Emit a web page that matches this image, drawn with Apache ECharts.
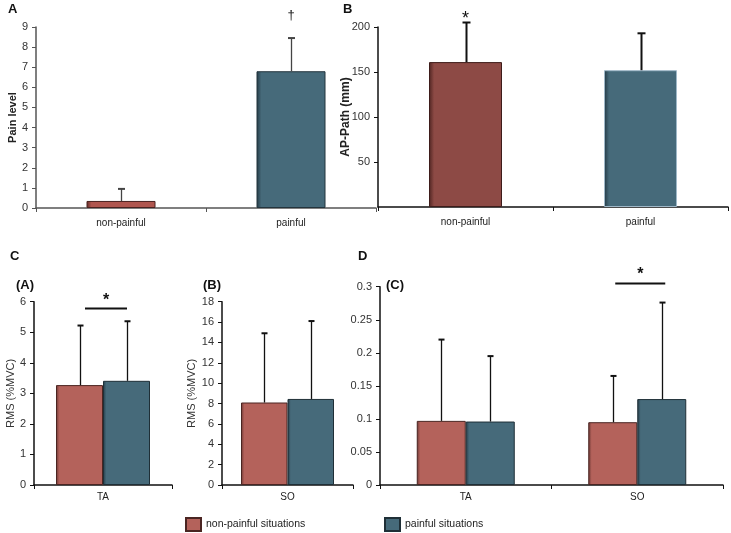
<!DOCTYPE html>
<html><head><meta charset="utf-8">
<script src="https://cdn.jsdelivr.net/npm/echarts@6/dist/echarts.min.js"></script>
<style>html,body{margin:0;padding:0;background:#fff}#c{width:731px;height:533px}</style>
</head><body><div id="c"></div>
<script>
// ---- data ----
const catsAB = ['non-painful', 'painful'];
const painLevel = [0.35, 6.8];
const painLevelSD = [0.6, 1.65];
const apPath = [161, 152];
const apPathSD = [44, 41];
const catsCA = ['TA'];
const caNon = [3.27], caNonSD = [1.95];
const caPain = [3.41], caPainSD = [1.95];
const catsCB = ['SO'];
const cbNon = [8.1], cbNonSD = [6.8];
const cbPain = [8.45], cbPainSD = [7.65];
const catsD = ['TA', 'SO'];
const dNon = [0.097, 0.095], dNonSD = [0.123, 0.070];
const dPain = [0.096, 0.130], dPainSD = [0.099, 0.146];
// annotations: [category index, line value, star value]
const sigCA = [[0, 5.78, 6.02]];
const sigD = [[1, 0.305, 0.319]];
const daggerA = [[1, 9.6]];
const starB = [[0, 208.5]];

const FONT = 'Liberation Sans, Arial, sans-serif';
function grad(dark, main) {
  return new echarts.graphic.LinearGradient(0, 0, 1, 0, [
    {offset: 0, color: dark}, {offset: 0.07, color: main}, {offset: 1, color: main}]);
}
const redA = grad('#5e2b27', '#b0564f');
const redB = grad('#4e2421', '#8d4a45');
const blueAB = grad('#233843', '#466a7a');
const redC = grad('#6a3531', '#b4625b');
const blueC = grad('#243a45', '#466a7a');

function errRender(offset, capW, color, lw) {
  return function (params, api) {
    const x = api.value(0), m = api.value(1), sd = api.value(2);
    const p0 = api.coord([x, m]), p1 = api.coord([x, m + sd]);
    const cx = Math.round(p0[0] + offset) + 0.5;
    return {type: 'group', children: [
      {type: 'line', shape: {x1: cx, y1: p0[1], x2: cx, y2: p1[1]}, style: {stroke: color, lineWidth: lw}},
      {type: 'line', shape: {x1: cx - capW / 2, y1: p1[1], x2: cx + capW / 2, y2: p1[1]}, style: {stroke: color, lineWidth: 2}}
    ]};
  };
}
function errSeries(idx, vals, sds, offset, capW, color, lw) {
  return {type: 'custom', xAxisIndex: idx, yAxisIndex: idx, z: 5, clip: false,
    renderItem: errRender(offset, capW, color, lw),
    data: vals.map((v, i) => [i, v, sds[i]])};
}
function sigSeries(idx, data, halfLen, dx) {
  return {type: 'custom', xAxisIndex: idx, yAxisIndex: idx, z: 6, clip: false,
    renderItem: function (params, api) {
      const p = api.coord([api.value(0), api.value(1)]);
      const s = api.coord([api.value(0), api.value(2)]);
      const cx = p[0] + dx;
      return {type: 'group', children: [
        {type: 'line', shape: {x1: cx - halfLen, y1: p[1], x2: cx + halfLen, y2: p[1]}, style: {stroke: '#111', lineWidth: 2}},
        {type: 'text', x: cx, y: s[1], style: {text: '*', font: 'bold 16px ' + FONT, fill: '#111', align: 'center', verticalAlign: 'middle'}}
      ]};
    },
    data: data};
}
function markSeries(idx, data, txt, size) {
  return {type: 'custom', xAxisIndex: idx, yAxisIndex: idx, z: 6, clip: false,
    renderItem: function (params, api) {
      const p = api.coord([api.value(0), api.value(1)]);
      return {type: 'text', x: p[0], y: p[1], style: {text: txt, font: size + 'px ' + FONT, fill: '#111', align: 'center', verticalAlign: 'middle'}};
    },
    data: data};
}
function yAx(idx, min, max, interval, lineColor, extra) {
  return Object.assign({type: 'value', gridIndex: idx, min: min, max: max, interval: interval,
    splitLine: {show: false},
    axisLine: {show: true, lineStyle: {color: lineColor, width: 1.5}},
    axisTick: {show: true, length: 4, lineStyle: {color: lineColor}},
    axisLabel: {color: '#333', fontSize: 11, fontFamily: FONT, margin: 8}}, extra || {});
}
function xAx(idx, data, lineColor, margin) {
  return {type: 'category', gridIndex: idx, data: data,
    axisLine: {show: true, lineStyle: {color: lineColor, width: 1.5}},
    axisTick: {show: true, length: 4, lineStyle: {color: lineColor}},
    axisLabel: {color: '#222', fontSize: 10, fontFamily: FONT, margin: margin}};
}

const chart = echarts.init(document.getElementById('c'), null, {renderer: 'canvas'});
chart.setOption({
  animation: false,
  backgroundColor: '#fff',
  grid: [
    {left: 36, top: 27, width: 340, height: 181},
    {left: 378, top: 27, width: 350, height: 180},
    {left: 34, top: 301.7, width: 138, height: 183.3},
    {left: 222, top: 301.7, width: 131, height: 183.3},
    {left: 380, top: 286.7, width: 343, height: 198.3}
  ],
  xAxis: [
    xAx(0, catsAB, '#555', 10),
    xAx(1, catsAB, '#111', 10),
    xAx(2, catsCA, '#111', 7),
    xAx(3, catsCB, '#111', 7),
    xAx(4, catsD, '#111', 7)
  ],
  yAxis: [
    yAx(0, 0, 9, 1, '#555', {name: 'Pain level', nameLocation: 'middle', nameGap: 18,
      nameTextStyle: {fontWeight: 'bold', fontSize: 11, fontFamily: FONT, color: '#222'}}),
    yAx(1, 0, 200, 50, '#111', {axisLabel: {color: '#333', fontSize: 11, fontFamily: FONT, margin: 8, showMinLabel: false},
      name: 'AP-Path (mm)', nameLocation: 'middle', nameGap: 26, nameMoveOverlap: false,
      nameTextStyle: {fontWeight: 'bold', fontSize: 12, fontFamily: FONT, color: '#222'}}),
    yAx(2, 0, 6, 1, '#111', {name: 'RMS (%MVC)', nameLocation: 'middle', nameGap: 11,
      nameTextStyle: {fontSize: 11, fontFamily: FONT, color: '#333'}}),
    yAx(3, 0, 18, 2, '#111', {name: 'RMS (%MVC)', nameLocation: 'middle', nameGap: 11,
      nameTextStyle: {fontSize: 11, fontFamily: FONT, color: '#333'}}),
    yAx(4, 0, 0.3, 0.05, '#111', {axisLabel: {color: '#333', fontSize: 11, fontFamily: FONT, margin: 8,
      formatter: v => String(+v.toFixed(2))}})
  ],
  legend: [
    {data: ['non-painful situations'], left: 185, top: 517, padding: 0, icon: 'rect', itemWidth: 15, itemHeight: 13, itemGap: 6,
      textStyle: {fontSize: 10.5, fontFamily: FONT, color: '#222'}, selectedMode: false},
    {data: ['painful situations'], left: 384, top: 517, padding: 0, icon: 'rect', itemWidth: 15, itemHeight: 13, itemGap: 6,
      textStyle: {fontSize: 10.5, fontFamily: FONT, color: '#222'}, selectedMode: false}
  ],
  graphic: [
    {type: 'text', left: 8, top: 3, style: {text: 'A', font: 'bold 13px ' + FONT, fill: '#111'}},
    {type: 'text', left: 343, top: 3, style: {text: 'B', font: 'bold 13px ' + FONT, fill: '#111'}},
    {type: 'text', left: 10, top: 250, style: {text: 'C', font: 'bold 13px ' + FONT, fill: '#111'}},
    {type: 'text', left: 358, top: 250, style: {text: 'D', font: 'bold 13px ' + FONT, fill: '#111'}},
    {type: 'text', left: 16, top: 279, style: {text: '(A)', font: 'bold 13px ' + FONT, fill: '#111'}},
    {type: 'text', left: 203, top: 279, style: {text: '(B)', font: 'bold 13px ' + FONT, fill: '#111'}},
    {type: 'text', left: 386, top: 279, style: {text: '(C)', font: 'bold 13px ' + FONT, fill: '#111'}}
  ],
  series: [
    {type: 'bar', name: 'pain', xAxisIndex: 0, yAxisIndex: 0, barWidth: 69,
      data: [
        {value: painLevel[0], itemStyle: {color: redA, borderColor: '#4a2220', borderWidth: 1}},
        {value: painLevel[1], itemStyle: {color: blueAB, borderColor: '#23343d', borderWidth: 1}}]},
    errSeries(0, painLevel, painLevelSD, 0, 7, '#444', 1.3),
    markSeries(0, daggerA, '†', 13),
    {type: 'bar', name: 'ap', xAxisIndex: 1, yAxisIndex: 1, barWidth: 73,
      data: [
        {value: apPath[0], itemStyle: {color: redB, borderColor: '#3e1c1a', borderWidth: 1}},
        {value: apPath[1], itemStyle: {color: blueAB, borderColor: '#9fb8c8', borderWidth: 1}}]},
    errSeries(1, apPath, apPathSD, 0, 8, '#111', 2),
    markSeries(1, starB, '*', 18),
    // C (A)
    {type: 'bar', name: 'non-painful situations', xAxisIndex: 2, yAxisIndex: 2, barWidth: 47, barGap: '0%',
      itemStyle: {color: redC, borderColor: '#4a2522', borderWidth: 1}, data: caNon},
    {type: 'bar', name: 'painful situations', xAxisIndex: 2, yAxisIndex: 2, barWidth: 47, barGap: '0%',
      itemStyle: {color: blueC, borderColor: '#1f2f37', borderWidth: 1}, data: caPain},
    errSeries(2, caNon, caNonSD, -23.5, 6, '#111', 1.3),
    errSeries(2, caPain, caPainSD, 23.5, 6, '#111', 1.3),
    sigSeries(2, sigCA, 21, 3),
    // C (B)
    {type: 'bar', name: 'non-painful situations', xAxisIndex: 3, yAxisIndex: 3, barWidth: 46.5, barGap: '0%',
      itemStyle: {color: redC, borderColor: '#4a2522', borderWidth: 1}, data: cbNon},
    {type: 'bar', name: 'painful situations', xAxisIndex: 3, yAxisIndex: 3, barWidth: 46.5, barGap: '0%',
      itemStyle: {color: blueC, borderColor: '#1f2f37', borderWidth: 1}, data: cbPain},
    errSeries(3, cbNon, cbNonSD, -23.25, 6, '#111', 1.3),
    errSeries(3, cbPain, cbPainSD, 23.25, 6, '#111', 1.3),
    // D (C)
    {type: 'bar', name: 'non-painful situations', xAxisIndex: 4, yAxisIndex: 4, barWidth: 49, barGap: '0%',
      itemStyle: {color: redC, borderColor: '#4a2522', borderWidth: 1}, data: dNon},
    {type: 'bar', name: 'painful situations', xAxisIndex: 4, yAxisIndex: 4, barWidth: 49, barGap: '0%',
      itemStyle: {color: blueC, borderColor: '#1f2f37', borderWidth: 1}, data: dPain},
    errSeries(4, dNon, dNonSD, -24.5, 6, '#111', 1.3),
    errSeries(4, dPain, dPainSD, 24.5, 6, '#111', 1.3),
    sigSeries(4, sigD, 25, 3)
  ]
});
</script></body></html>
